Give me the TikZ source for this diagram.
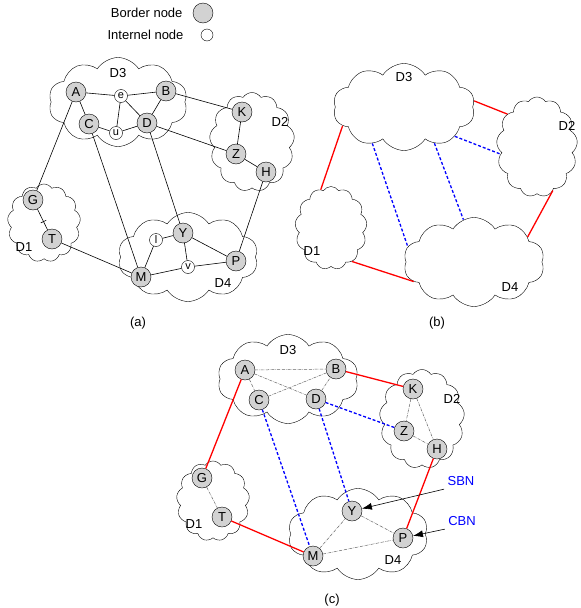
\documentclass[tikz,border=0pt]{standalone}
\usepackage{fontspec}
\setmainfont{Liberation Sans}
\usetikzlibrary{arrows.meta,shapes.symbols,positioning,calc}

\begin{document}
\begin{tikzpicture}[
    x=1pt, y=-1pt,
    font=\fontsize{13}{15}\selectfont,
    domcloud/.style={cloud, cloud puffs=10, cloud puff arc=115, cloud ignores aspect,
                   draw, fill=white, inner sep=0pt},
    smallcloud/.style={domcloud, cloud puffs=13},
    bordernode/.style={circle, draw, fill=gray!35, minimum size=20pt, inner sep=0pt},
    innernode/.style={circle, draw, fill=white, minimum size=13pt, inner sep=0pt,
                     font=\fontsize{11}{13}\selectfont},
    link/.style={line width=0.6pt},
    interlink/.style={red, line width=1.3pt},
    virtlink/.style={blue, densely dashed, line width=1.3pt},
    intralink/.style={black!60, densely dash dot, line width=0.5pt},
    pointer/.style={-{Latex[length=10pt,width=7pt]}, line width=0.6pt}
]
\useasboundingbox (0,0) rectangle (581,608);

% Legend
\node[anchor=east] (legb) at (186,13) {Border node};
\node[bordernode] (legbc) at (203,13) {};
\node[anchor=east] (legi) at (187,35) {Internel node};
\node[innernode, minimum size=12pt] (legic) at (207,35) {};

% (a) domains
\node[domcloud, minimum width=139pt, minimum height=89pt] (aD3) at (118,102) {};
\node[smallcloud, minimum width=85pt, minimum height=99pt] (aD2) at (252,142) {};
\node[smallcloud, minimum width=73pt, minimum height=78pt] (aD1) at (44,223) {};
\node[domcloud, minimum width=140pt, minimum height=89pt] (aD4) at (188,257) {};
\node (la3) at (118,73) {D3};
\node (la2) at (280,122) {D2};
\node (la1) at (24,247) {D1};
\node (la4) at (223,283) {D4};

% (a) nodes
\node[bordernode] (aA) at (76,92) {A};
\node[innernode] (ae) at (121,96) {e};
\node[bordernode] (aB) at (166,91) {B};
\node[bordernode] (aC) at (89,124) {C};
\node[innernode] (au) at (116,133) {u};
\node[bordernode] (aD) at (147,123) {D};
\node[bordernode] (aK) at (242,112) {K};
\node[bordernode] (aZ) at (236,154) {Z};
\node[bordernode] (aH) at (266,172) {H};
\node[bordernode] (aG) at (33,200) {G};
\node[bordernode] (aT) at (52,239) {T};
\node[innernode] (al) at (156,240) {l};
\node[bordernode] (aY) at (183,233) {Y};
\node[innernode] (av) at (188,267) {v};
\node[bordernode] (aP) at (236,261) {P};
\node[bordernode] (aM) at (141,277) {M};

% (a) links
\draw[link] (aA) -- (ae);
\draw[link] (ae) -- (aB);
\draw[link] (aA) -- (aC);
\draw[link] (aC) -- (au);
\draw[link] (au) -- (ae);
\draw[link] (au) -- (aD);
\draw[link] (ae) -- (aD);
\draw[link] (aD) -- (aB);
\draw[link] (aB) -- (aK);
\draw[link] (aD) -- (aZ);
\draw[link] (aK) -- (aZ);
\draw[link] (aZ) -- (aH);
\draw[link] (aA) -- (aG);
\draw[link] (aG) -- coordinate[pos=0.6] (gt) (aT);
\draw[link] ($(gt)!3pt!90:(aT)$) -- ($(gt)!3pt!-90:(aT)$);
\draw[link] (aT) -- (aM);
\draw[link] (aC) -- (aM);
\draw[link] (aD) -- (aY);
\draw[link] (aM) -- (al);
\draw[link] (al) -- (aY);
\draw[link] (aY) -- (aP);
\draw[link] (aY) -- (av);
\draw[link] (aM) -- (av);
\draw[link] (av) -- (aP);
\draw[link] (aH) -- (aP);
\node (capa) at (138,323) {(a)};

% (b) domains
\node[domcloud, minimum width=142pt, minimum height=87pt] (bD3) at (404,107) {};
\node[smallcloud, minimum width=81pt, minimum height=100pt] (bD2) at (537,147) {};
\node[smallcloud, minimum width=72pt, minimum height=83pt] (bD1) at (331,228) {};
\node[domcloud, minimum width=141pt, minimum height=89pt] (bD4) at (474,262) {};
\node (lb3) at (404,77) {D3};
\node (lb2) at (567,126) {D2};
\node (lb1) at (312,251) {D1};
\node (lb4) at (510,287) {D4};

% (b) links
\draw[interlink] (bD3.197) -- (bD1.105);
\draw[interlink] (bD3.5) -- (bD2.132);
\draw[interlink] (bD1.302) -- (bD4.198);
\draw[interlink] (bD2.290) -- (bD4.25);
\draw[virtlink] (bD3.229) -- (bD4.167);
\draw[virtlink] (bD3.310) -- (bD4.104);
\draw[virtlink] (bD3.330) -- (bD2.191);
\node (capb) at (437,323) {(b)};

% (c)
\begin{scope}[shift={(170,277)}]
\node[domcloud, minimum width=141pt, minimum height=89pt] (cD3) at (118,102) {};
\node[smallcloud, minimum width=85pt, minimum height=99pt] (cD2) at (252,142) {};
\node[smallcloud, minimum width=73pt, minimum height=80pt] (cD1) at (43,224) {};
\node[domcloud, minimum width=140pt, minimum height=91pt] (cD4) at (188,257) {};
\node (lc3) at (118,73) {D3};
\node (lc2) at (282,122) {D2};
\node (lc1) at (24,247) {D1};
\node (lc4) at (223,283) {D4};

\node[bordernode] (cA) at (75,93) {A};
\node[bordernode] (cB) at (166,92) {B};
\node[bordernode] (cC) at (89,123) {C};
\node[bordernode] (cD) at (146,122) {D};
\node[bordernode] (cK) at (243,112) {K};
\node[bordernode] (cZ) at (234,154) {Z};
\node[bordernode] (cH) at (267,172) {H};
\node[bordernode] (cG) at (32,201) {G};
\node[bordernode] (cT) at (52,240) {T};
\node[bordernode] (cY) at (182,234) {Y};
\node[bordernode] (cP) at (233,261) {P};
\node[bordernode] (cM) at (143,279) {M};
\end{scope}

% (c) links
\draw[intralink] (cA) -- (cB);
\draw[intralink] (cA) -- (cC);
\draw[intralink] (cA) -- (cD);
\draw[intralink] (cC) -- (cB);
\draw[intralink] (cD) -- (cB);
\draw[intralink] (cK) -- (cZ);
\draw[intralink] (cK) -- (cH);
\draw[intralink] (cZ) -- (cH);
\draw[intralink] (cG) -- (cT);
\draw[intralink] (cM) -- (cY);
\draw[intralink] (cY) -- (cP);
\draw[intralink] (cM) -- (cP);
\draw[interlink] (cA) -- (cG);
\draw[interlink] (cB) -- (cK);
\draw[interlink] (cT) -- (cM);
\draw[interlink] (cH) -- (cP);
\draw[virtlink] (cC) -- (cM);
\draw[virtlink] (cD) -- (cY);
\draw[virtlink] (cD) -- (cZ);

% Labels
\node[blue] (sbn) at (461,481) {SBN};
\node[blue] (cbn) at (462,521) {CBN};
\draw[pointer] (sbn.south west) -- (cY);
\draw[pointer] (cbn.south west) -- (cP);
\node (capc) at (332,600) {(c)};

\end{tikzpicture}
\end{document}
